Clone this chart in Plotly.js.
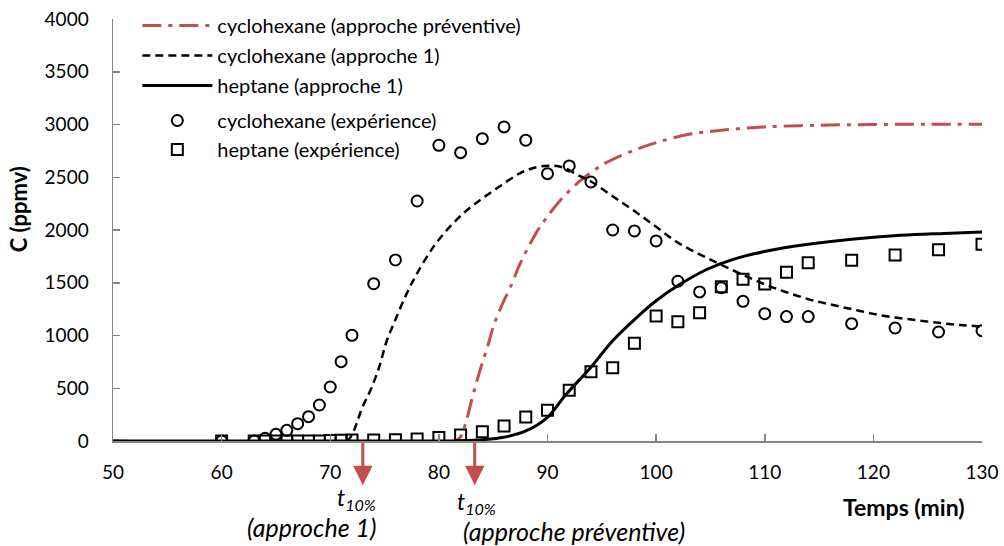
<!DOCTYPE html>
<html><head><meta charset="utf-8">
<script src="https://cdn.plot.ly/plotly-3.0.1.min.js"></script>
<style>body{margin:0;background:#fff}#c{width:1004px;height:546px}</style>
</head><body><div id="c"></div>
<script>
// experimental times (min)
const tExp = [60,63,64,65,66,67,68,69,70,71,72,74,76,78,80,82,84,86,88,90,92,94,96,98,100,102,104,106,108,110,112,114,118,122,126,130];
const cycloExp = [0,0,25,63,101,164,231,341,512,752,1002,1491,1716,2275,2803,2733,2866,2977,2851,2534,2607,2455,2000,1991,1896,1514,1413,1453,1324,1207,1179,1179,1112,1071,1033,1046];
const heptExp = [0,0,0,0,0,0,0,0,5,8,10,10,12,18,32,57,88,142,227,291,480,657,695,926,1185,1131,1216,1463,1533,1488,1599,1690,1713,1763,1813,1864];

// model: cyclohexane (approche préventive)
const tPrev = [50,81.5,82,82.5,83,83.5,84,84.5,85,85.7,86.7,87.3,88,89,90,91.4,93,94.4,95.7,98,100,103,106,110,115,120,125,130];
const cycloPrev = [0,0,40,180,380,570,740,900,1080,1264,1485,1640,1790,1980,2130,2307,2465,2575,2654,2756,2828,2907,2945,2977,2993,3000,3002,3003];

// model: cyclohexane (approche 1)
const tCyc1 = [50,71.5,72,72.5,73,73.7,74.5,75.2,76,77,78,79.5,81,82.5,84,85.7,87.5,89,90.3,91.5,93,94,96,98,100,102,104,106,108,110,112,114,116,118,120,122,124,126,128,130];
const cyclo1 = [0,0,60,190,330,480,700,950,1150,1390,1590,1840,2030,2180,2300,2420,2540,2595,2610,2590,2510,2460,2320,2180,2030,1880,1770,1670,1575,1485,1410,1345,1295,1250,1205,1170,1145,1120,1100,1085];

// model: heptane (approche 1)
const tHep1 = [50,80,82,84,86,88,90,91.7,94,96,98.2,100,102.2,104.7,107.1,110.2,114,118,122.5,126.5,130];
const hept1 = [0,0,3,12,35,95,225,440,700,950,1170,1330,1485,1628,1722,1801,1864,1912,1950,1968,1981];

// t10% markers
const t10 = [73.0, 83.3];

const names = ['cyclohexane (approche préventive)','cyclohexane (approche 1)','heptane (approche 1)','cyclohexane (expérience)','heptane (expérience)'];
const red = '#C0504D';
const FONT = 'Lato, "Open Sans", sans-serif';

const traces = [
  {x:tPrev, y:cycloPrev, name:names[0], mode:'lines', line:{color:red, width:3, dash:'19px,7px,4px,7px', shape:'spline'}, legend:'legend', legendgroup:'a'},
  {x:tCyc1, y:cyclo1, name:names[1], mode:'lines', line:{color:'#000', width:2.5, dash:'8px,5px', shape:'spline'}, legend:'legend', legendgroup:'b'},
  {x:tHep1, y:hept1, name:names[2], mode:'lines', line:{color:'#000', width:3, shape:'spline'}, legend:'legend', legendgroup:'c'},
  {x:tExp, y:cycloExp, name:names[3], mode:'markers', marker:{symbol:'circle-open', size:11, color:'#000', line:{width:2, color:'#000'}}, legend:'legend2'},
  {x:tExp, y:heptExp, name:names[4], mode:'markers', marker:{symbol:'square-open', size:11, color:'#000', line:{width:2, color:'#000'}}, legend:'legend2'}
];

const ann = [];
t10.forEach(t => {
  ann.push({x:t, y:-420, xref:'x', yref:'y', ax:t, ay:0, axref:'x', ayref:'y', text:'', showarrow:true,
            arrowhead:2, arrowsize:1.3, arrowwidth:3, arrowcolor:red});
});
ann.push({x:t10[0], y:-0.137, xref:'x', yref:'paper', text:'<i>t<sub>10%</sub></i>', showarrow:false, xanchor:'center', yanchor:'middle', xshift:-6, borderpad:0, font:{family:FONT, size:23, color:'#000'}});
ann.push({x:t10[0], y:-0.204, xref:'x', yref:'paper', text:'<i>(approche 1)</i>', showarrow:false, xanchor:'right', yanchor:'middle', xshift:14, borderpad:0, font:{family:FONT, size:25, color:'#000'}});
ann.push({x:t10[1], y:-0.146, xref:'x', yref:'paper', text:'<i>t<sub>10%</sub></i>', showarrow:false, xanchor:'center', yanchor:'middle', xshift:2, borderpad:0, font:{family:FONT, size:23, color:'#000'}});
ann.push({x:t10[1], y:-0.213, xref:'x', yref:'paper', text:'<i>(approche préventive)</i>', showarrow:false, xanchor:'left', yanchor:'middle', xshift:-13, borderpad:0, font:{family:FONT, size:25, color:'#000'}});
ann.push({x:1, y:-0.156, xref:'paper', yref:'paper', text:'<b>Temps (min)</b>', showarrow:false, xanchor:'right', yanchor:'middle', xshift:-15, font:{family:FONT, size:23, color:'#000'}});
ann.push({x:0, y:0.549, xref:'paper', yref:'paper', text:'<b>C (ppmv)</b>', showarrow:false, xanchor:'center', yanchor:'middle', textangle:-90, xshift:-95, font:{family:FONT, size:22, color:'#000'}});

const layout = {
  width:1004, height:546,
  margin:{l:113, r:22, t:19, b:105, autoexpand:false},
  paper_bgcolor:'#fff', plot_bgcolor:'#fff',
  font:{family:FONT, size:19, color:'#000'},
  showlegend:true,
  xaxis:{range:[50,130], dtick:10, tick0:50, showgrid:false, zeroline:false, showline:true, linecolor:'#868686', linewidth:1.5,
         ticks:'inside', ticklen:7, tickwidth:1.5, tickcolor:'#868686', tickfont:{family:FONT, size:19, color:'#000'}, ticklabelstandoff:14},
  yaxis:{range:[0,4000], dtick:500, showgrid:false, zeroline:false, showline:true, linecolor:'#868686', linewidth:1.5,
         ticks:'inside', ticklen:7, tickwidth:1.5, tickcolor:'#868686', tickfont:{family:FONT, size:19, color:'#000'}, ticklabelstandoff:19},
  legend:{x:0.028, y:0.989, xanchor:'left', yanchor:'top', yref:'container', bgcolor:'rgba(0,0,0,0)', itemwidth:70, tracegroupgap:1,
          font:{family:FONT, size:20, color:'#000'}},
  legend2:{x:0.028, y:0.815, xanchor:'left', yanchor:'top', yref:'container', bgcolor:'rgba(0,0,0,0)', itemwidth:70, tracegroupgap:0,
          font:{family:FONT, size:20, color:'#000'}},
  annotations:ann
};
Plotly.newPlot('c', traces, layout, {displayModeBar:false, staticPlot:true});
</script></body></html>
